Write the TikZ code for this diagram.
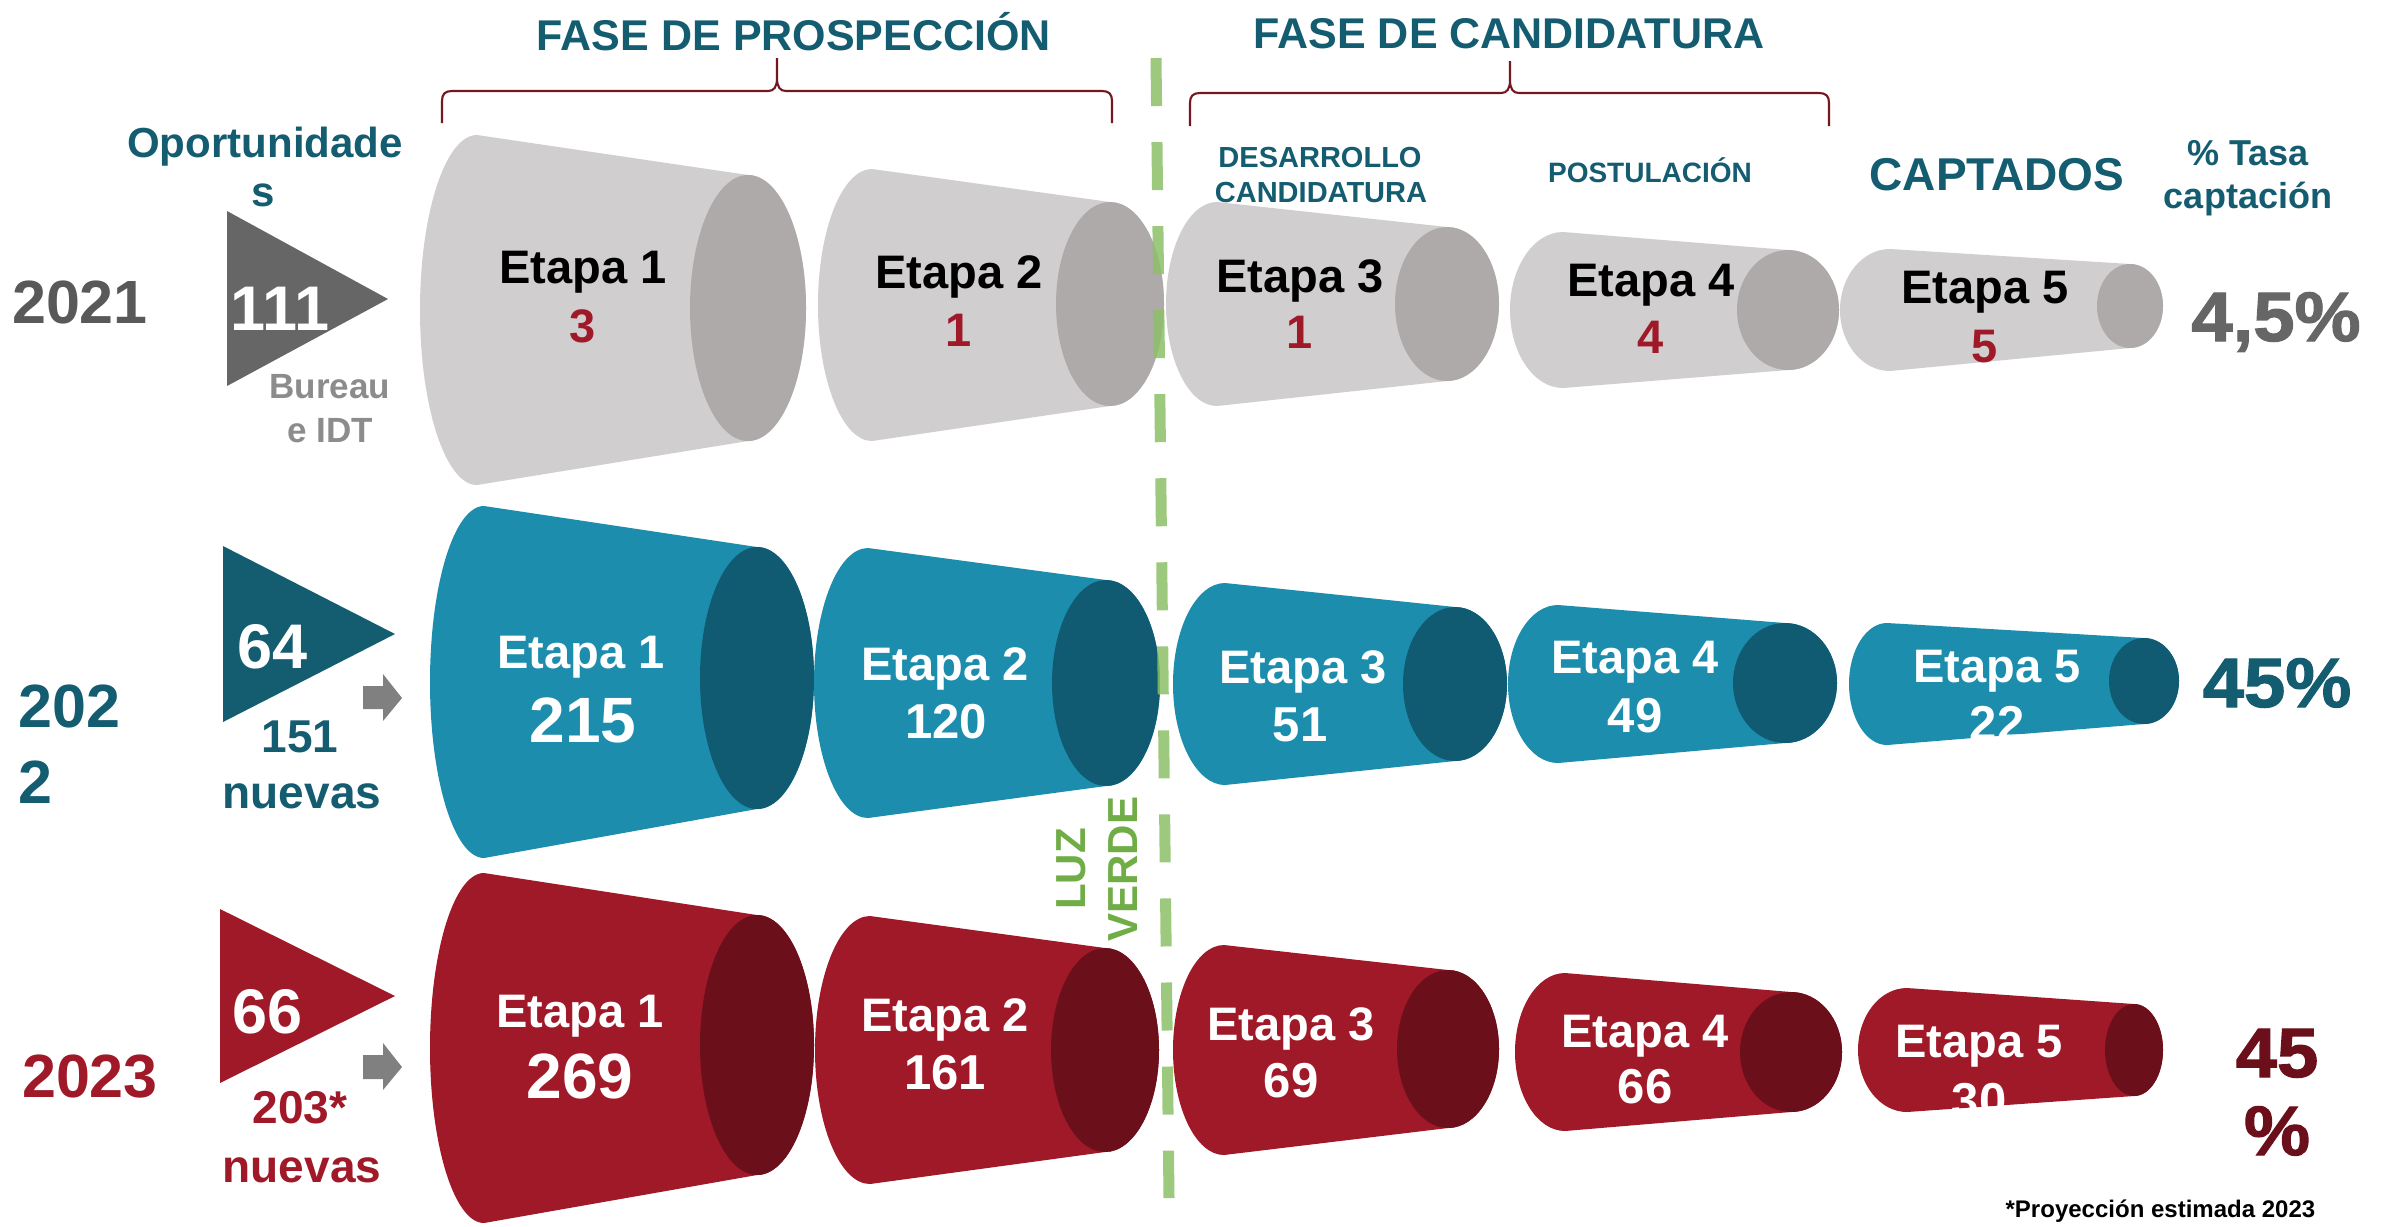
\documentclass[tikz,border=0pt]{standalone}
\usepackage{fontspec}
\usepackage{graphicx}
\setmainfont{Liberation Sans}
\definecolor{teal}{RGB}{20,92,112}
\definecolor{yeargray}{RGB}{89,89,89}
\definecolor{trigray}{RGB}{102,102,102}
\definecolor{lightgraytxt}{RGB}{140,140,140}
\definecolor{cred}{RGB}{160,25,40}
\definecolor{dred}{RGB}{107,16,27}
\definecolor{gcolbody}{RGB}{208,206,206}
\definecolor{gcolend}{RGB}{174,170,170}
\definecolor{bcolbody}{RGB}{28,141,173}
\definecolor{bcolend}{RGB}{17,91,114}
\definecolor{rcolbody}{RGB}{160,25,40}
\definecolor{rcolend}{RGB}{107,16,27}
\definecolor{dashgreen}{RGB}{140,192,104}
\definecolor{luzgreen}{RGB}{112,173,71}
\definecolor{bracered}{RGB}{118,22,32}
\definecolor{arrowgray}{RGB}{128,128,128}
\newcommand\fpx[1]{\fontsize{\fpeval{#1*0.28453}pt}{\fpeval{#1*0.34}pt}\selectfont}
\newcommand\wide[1]{\scalebox{1.06}[1]{#1}}
% cap ellipse: cx cy rx ry colour
\newcommand\capell[5]{%
 \fill[fill=#5] (#1,{#2-#4}) .. controls ({#1-0.5523*#3},{#2-#4}) and ({#1-#3},{#2-0.5523*#4}) .. ({#1-#3},#2)
  .. controls ({#1-#3},{#2+0.5523*#4}) and ({#1-0.5523*#3},{#2+#4}) .. (#1,{#2+#4})
  .. controls ({#1+0.5523*#3},{#2+#4}) and ({#1+#3},{#2+0.5523*#4}) .. ({#1+#3},#2)
  .. controls ({#1+#3},{#2-0.5523*#4}) and ({#1+0.5523*#3},{#2-#4}) .. (#1,{#2-#4}) -- cycle;}
% cylinder: lcx lcy lrx lry rcx rcy rrx rry colourprefix
\newcommand\cyl[9]{%
 \fill[fill=#9colbody] (#1,{#2-#4}) .. controls ({#1-0.5523*#3},{#2-#4}) and ({#1-#3},{#2-0.5523*#4}) .. ({#1-#3},#2)
  .. controls ({#1-#3},{#2+0.5523*#4}) and ({#1-0.5523*#3},{#2+#4}) .. (#1,{#2+#4})
  -- (#5,{#6+#8}) .. controls ({#5+0.5523*#7},{#6+#8}) and ({#5+#7},{#6+0.5523*#8}) .. ({#5+#7},#6)
  .. controls ({#5+#7},{#6-0.5523*#8}) and ({#5+0.5523*#7},{#6-#8}) .. (#5,{#6-#8}) -- cycle;
 \capell{#5}{#6}{#7}{#8}{#9colend}}
\newcommand\cylclip[8]{%
 \clip (#1,{#2-#4}) .. controls ({#1-0.5523*#3},{#2-#4}) and ({#1-#3},{#2-0.5523*#4}) .. ({#1-#3},#2)
  .. controls ({#1-#3},{#2+0.5523*#4}) and ({#1-0.5523*#3},{#2+#4}) .. (#1,{#2+#4})
  -- (#5,{#6+#8}) .. controls ({#5+0.5523*#7},{#6+#8}) and ({#5+#7},{#6+0.5523*#8}) .. ({#5+#7},#6)
  .. controls ({#5+#7},{#6-0.5523*#8}) and ({#5+0.5523*#7},{#6-#8}) .. (#5,{#6-#8}) -- cycle;}
\tikzset{
 tx/.style={inner sep=0pt, anchor=base},
 lab/.style={tx, font=\bfseries\fpx{47}},
 num/.style={tx, font=\bfseries\fpx{49}},
 bignum/.style={tx, font=\bfseries\fpx{64}},
 head/.style={tx, font=\bfseries\fpx{43}, text=teal},
 sub/.style={tx, font=\bfseries\fpx{29}, text=teal},
 year/.style={tx, font=\bfseries\fpx{61}},
 tri/.style={tx, font=\bfseries\fpx{63}, text=white},
 note/.style={tx, font=\bfseries\fpx{46}},
 pct/.style={tx, font=\bfseries\fpx{70}\addfontfeature{FakeBold=1.6}},
 bracestyle/.style={draw=bracered, line width=0.6pt},
}
\begin{document}
\begin{tikzpicture}[x=0.01cm, y=-0.01cm]
\useasboundingbox (0,0) rectangle (2381,1226);
\fill[white] (0,0) rectangle (2381,1226);

% ---------- headers ----------
\node[head] (fp) at (794,50) {FASE DE PROSPECCIÓN};
\node[head] (fc) at (1509,48) {FASE DE CANDIDATURA};
\draw[bracestyle] (442,123) -- (442,101) .. controls (442,94) and (445,91) .. (452,91) -- (768,91)
  .. controls (774,91) and (777,87) .. (777,78) -- (777,58)
  (777,78) .. controls (777,87) and (780,91) .. (786,91) -- (1102,91)
  .. controls (1109,91) and (1112,94) .. (1112,101) -- (1112,123);
\draw[bracestyle] (1190,126) -- (1190,103) .. controls (1190,96) and (1193,93) .. (1200,93) -- (1501,93)
  .. controls (1507,93) and (1510,89) .. (1510,80) -- (1510,61)
  (1510,80) .. controls (1510,89) and (1513,93) .. (1519,93) -- (1819,93)
  .. controls (1826,93) and (1829,96) .. (1829,103) -- (1829,126);
\node[sub] (des1) at (1320,167) {DESARROLLO};
\node[sub] (des2) at (1321,202) {CANDIDATURA};
\node[sub, font=\bfseries\fpx{28}] (post) at (1650,182) {POSTULACIÓN};
\node[tx, font=\bfseries\fpx{46}, text=teal] (capt) at (1997,190) {CAPTADOS};
\node[tx, font=\bfseries\fpx{36}, text=teal] (tasa1) at (2248,165) {\% Tasa};
\node[tx, font=\bfseries\fpx{36}, text=teal] (tasa2) at (2248,208) {captación};
\node[tx, font=\bfseries\fpx{42}, text=teal] (op1) at (265,157) {Oportunidade};
\node[tx, font=\bfseries\fpx{42}, text=teal] (op2) at (263,206) {s};

% ---------- row 2021 ----------
\node[year, text=yeargray] (y21) at (80,323) {2021};
\fill[trigray] (227,211) -- (227,386) -- (388,299) -- cycle;
\node[tri] (n21) at (280,330) {111};
\node[tx, font=\bfseries\fpx{35}, text=lightgraytxt] (bur1) at (330,398) {Bureau};
\node[tx, font=\bfseries\fpx{35}, text=lightgraytxt] (bur2) at (330,442) {e IDT};

\cyl{477}{310}{57}{175}{748}{308}{58}{133}{g}
\cyl{872}{305}{54}{136}{1110}{304}{54}{102}{g}
\cyl{1217}{304}{51}{102}{1447}{304}{52}{77}{g}
\cyl{1563}{310}{53}{78}{1788}{310}{51}{60}{g}
\cyl{1890}{310}{50}{61}{2130}{306}{33}{42}{g}

\node[lab] (a1) at (583,283) {Etapa 1};
\node[lab, text=cred] (a1n) at (583,342) {3};
\node[lab] (a2) at (959,288) {Etapa 2};
\node[lab, text=cred] (a2n) at (959,346) {1};
\node[lab] (a3) at (1300,292) {Etapa 3};
\node[lab, text=cred] (a3n) at (1300,348) {1};
\node[lab] (a4) at (1651,296) {Etapa 4};
\node[lab, text=cred] (a4n) at (1651,353) {4};
\node[lab] (a5) at (1985,303) {Etapa 5};
\node[lab, text=cred] (a5n) at (1985,362) {5};
\node[pct, text=trigray] (p21) at (2276,341) {\wide{4,5\%}};

% ---------- row 2022 ----------
\node[year, text=teal, anchor=base west] (y22a) at (18,727) {202};
\node[year, text=teal, anchor=base west] (y22b) at (18,803) {2};
\fill[teal] (223,546) -- (223,722) -- (395,634) -- cycle;
\node[tri] (n22) at (273,668) {64};
\node[note, text=teal] (new22a) at (300,752) {151};
\node[note, text=teal] (new22b) at (302,808) {nuevas};
\fill[arrowgray] (363,686) -- (383,686) -- (383,674) -- (402,698) -- (383,721) -- (383,709) -- (363,709) -- cycle;

\cyl{484}{682}{54}{176}{757}{678}{57}{131}{b}
\cyl{868}{683}{54}{135}{1106}{683}{54}{103}{b}
\cyl{1225}{684}{52}{101}{1455}{684}{52}{77}{b}
\cyl{1558}{684}{50}{79}{1785}{683}{52}{60}{b}
\cyl{1887}{684}{38}{61}{2144}{681}{35}{43}{b}

\node[lab, text=white] (b1) at (581,668) {Etapa 1};
\node[bignum, text=white] (b1n) at (583,742) {215};
\node[lab, text=white] (b2) at (945,680) {Etapa 2};
\node[num, text=white] (b2n) at (946,738) {120};
\node[lab, text=white] (b3) at (1303,683) {Etapa 3};
\node[num, text=white] (b3n) at (1300,741) {51};
\node[lab, text=white] (b4) at (1635,673) {Etapa 4};
\node[num, text=white] (b4n) at (1635,732) {49};
\node[lab, text=white] (b5) at (1997,682) {Etapa 5};
\begin{scope}
\cylclip{1887}{684}{38}{61}{2144}{681}{35}{43}
\node[num, text=white] (b5n) at (1997,740) {22};
\end{scope}
\node[pct, text=teal] (p22) at (2277,707) {\wide{45\%}};

% ---------- row 2023 ----------
\node[year, text=cred] (y23) at (90,1097) {2023};
\fill[cred] (220,909) -- (220,1083) -- (395,996) -- cycle;
\node[tri] (n23) at (268,1033) {66};
\node[note, text=cred] (new23a) at (300,1123) {203*};
\node[note, text=cred] (new23b) at (302,1182) {nuevas};
\fill[arrowgray] (363,1055) -- (383,1055) -- (383,1043) -- (402,1067) -- (383,1090) -- (383,1079) -- (363,1079) -- cycle;

\cyl{484}{1048}{54}{175}{757}{1045}{57}{130}{r}
\cyl{870}{1050}{55}{134}{1105}{1050}{54}{102}{r}
\cyl{1224}{1050}{51}{105}{1448}{1049}{51}{79}{r}
\cyl{1565}{1052}{50}{79}{1791}{1052}{51}{60}{r}
\cyl{1907}{1050}{49}{62}{2134}{1050}{29}{46}{r}

\node[lab, text=white] (c1) at (580,1027) {Etapa 1};
\node[bignum, text=white] (c1n) at (580,1098) {269};
\node[lab, text=white] (c2) at (945,1031) {Etapa 2};
\node[num, text=white] (c2n) at (945,1089) {161};
\node[lab, text=white] (c3) at (1291,1040) {Etapa 3};
\node[num, text=white] (c3n) at (1291,1097) {69};
\node[lab, text=white] (c4) at (1645,1047) {Etapa 4};
\node[num, text=white] (c4n) at (1645,1103) {66};
\node[lab, text=white] (c5) at (1979,1057) {Etapa 5};
\begin{scope}
\cylclip{1907}{1050}{49}{62}{2134}{1050}{29}{46}
\node[num, text=white] (c5n) at (1979,1117) {30};
\end{scope}
\node[pct, text=dred] (p23a) at (2277,1077) {\wide{45}};
\node[pct, text=dred] (p23b) at (2277,1155) {\wide{\%}};

% ---------- luz verde ----------
\draw[dashgreen, opacity=0.85, line width=0.11cm, dash pattern=on 0.48cm off 0.36cm] (1156,58) -- (1169,1198);
\node[tx, rotate=90, font=\bfseries\fpx{42}, text=luzgreen] (luz) at (1085,869) {LUZ};
\node[tx, rotate=90, font=\bfseries\fpx{42}, text=luzgreen] (verde) at (1137,869) {VERDE};

% ---------- footnote ----------
\node[tx, anchor=base east, font=\bfseries\fpx{24}] (fn) at (2316,1217) {*Proyección estimada 2023};
\end{tikzpicture}
\end{document}
